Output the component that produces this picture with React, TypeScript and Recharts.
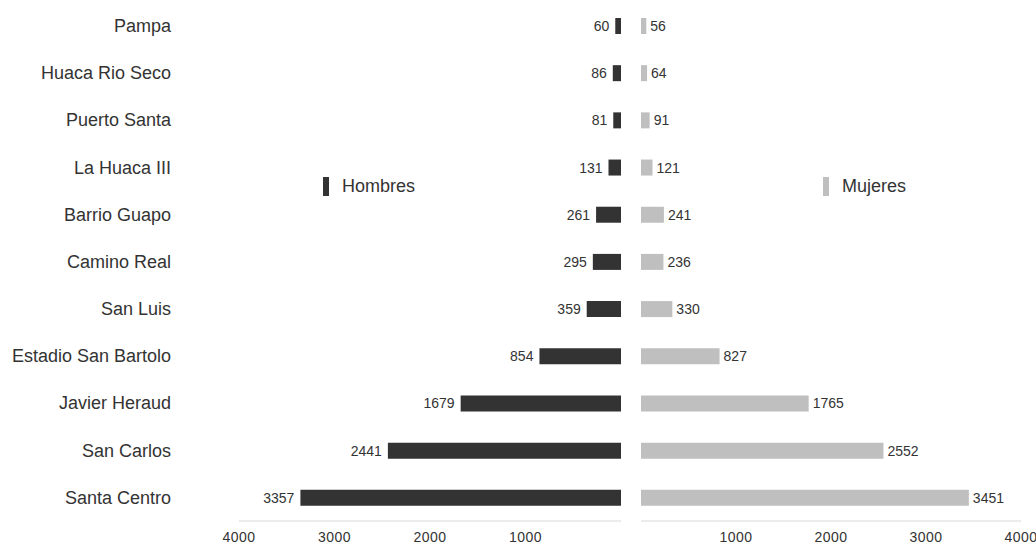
import React from "react";
import { BarChart, Bar, XAxis, YAxis, LabelList, Legend } from "recharts";

// categories top -> bottom
const barrios = [
  "Pampa", "Huaca Rio Seco", "Puerto Santa", "La Huaca III", "Barrio Guapo",
  "Camino Real", "San Luis", "Estadio San Bartolo", "Javier Heraud", "San Carlos", "Santa Centro",
];
const hombres = [60, 86, 81, 131, 261, 295, 359, 854, 1679, 2441, 3357];
const mujeres = [56, 64, 91, 121, 241, 236, 330, 827, 1765, 2552, 3451];
const axisTicks = [1000, 2000, 3000, 4000];

const data = barrios.map((name, i) => ({ name, hombres: hombres[i], mujeres: mujeres[i] }));

const DARK = "#333333";
const LIGHT = "#bfbfbf";
const FONT = "Arial, 'Liberation Sans', sans-serif";

function LegendItem({ color, label }: { color: string; label: string }) {
  return (
    <div style={{ display: "flex", alignItems: "center", width: 120, fontFamily: FONT, fontSize: 18, color: "#333", whiteSpace: "nowrap" }}>
      <span style={{ display: "inline-block", flexShrink: 0, width: 6, height: 19, background: color, marginRight: 13 }} />
      {label}
    </div>
  );
}

// value label on the outer (left) side of the reversed bars
const leftValueLabel = (props: unknown) => {
  const p = props as { x?: number | string; y?: number | string; width?: number | string; height?: number | string; value?: number | string };
  const x = Number(p.x), y = Number(p.y), w = Number(p.width), h = Number(p.height);
  if (isNaN(x) || isNaN(y)) return null;
  const left = Math.min(x, x + w);
  return (
    <text x={left - 6} y={y + h / 2} textAnchor="end" dominantBaseline="central" fontSize={14} fill="#333" fontFamily={FONT}>
      {p.value}
    </text>
  );
};

const tickStyle = { fontSize: 14, fill: "#333", fontFamily: FONT, letterSpacing: 0.5 };

export default function App() {
  return (
    <div style={{ position: "relative", width: 1036, height: 545, background: "#fff" }}>
      <style>{"body{margin:0}"}</style>
      <div style={{ position: "absolute", left: 0, top: 0 }}>
        <BarChart width={631} height={545} data={data} layout="vertical" margin={{ top: 2, right: 10, bottom: 0, left: 0 }}>
          <XAxis
            type="number"
            domain={[0, 4000]}
            reversed
            ticks={axisTicks}
            tickLine={false}
            axisLine={{ stroke: "#d9d9d9" }}
            tick={tickStyle}
            tickMargin={5}
            height={24}
          />
          <YAxis
            type="category"
            dataKey="name"
            width={239}
            axisLine={false}
            tickLine={false}
            tickSize={0}
            tickMargin={68}
            tick={{ fontSize: 18, fill: "#333", fontFamily: FONT }}
          />
          <Legend
            content={() => <LegendItem color={DARK} label="Hombres" />}
            wrapperStyle={{ position: "absolute", left: 323, top: 176, width: 0, height: 0, overflow: "visible" }}
          />
          <Bar dataKey="hombres" name="Hombres" fill={DARK} barSize={16} isAnimationActive={false}>
            <LabelList dataKey="hombres" content={leftValueLabel} />
          </Bar>
        </BarChart>
      </div>
      <div style={{ position: "absolute", left: 631, top: 0 }}>
        <BarChart width={405} height={545} data={data} layout="vertical" margin={{ top: 2, right: 15, bottom: 0, left: 10 }}>
          <XAxis
            type="number"
            domain={[0, 4000]}
            ticks={axisTicks}
            tickLine={false}
            axisLine={{ stroke: "#d9d9d9" }}
            tick={tickStyle}
            tickMargin={5}
            height={24}
          />
          <YAxis type="category" dataKey="name" hide width={0} />
          <Legend
            content={() => <LegendItem color={LIGHT} label="Mujeres" />}
            wrapperStyle={{ position: "absolute", left: 192, top: 176, width: 0, height: 0, overflow: "visible" }}
          />
          <Bar dataKey="mujeres" name="Mujeres" fill={LIGHT} barSize={16} isAnimationActive={false}>
            <LabelList dataKey="mujeres" position="right" offset={4} fontSize={14} fill="#333" fontFamily={FONT} />
          </Bar>
        </BarChart>
      </div>
    </div>
  );
}
